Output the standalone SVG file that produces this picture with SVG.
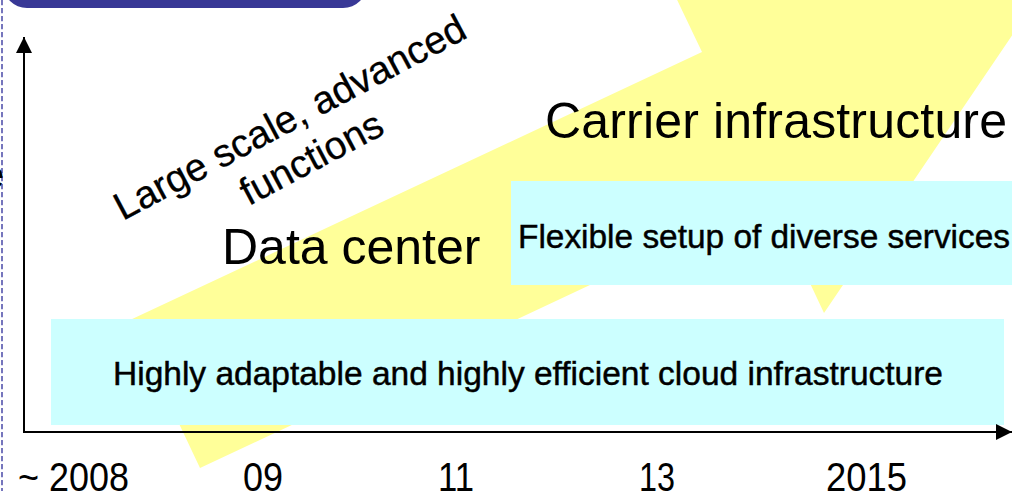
<svg xmlns="http://www.w3.org/2000/svg" width="1012" height="491" viewBox="0 0 1012 491">
<style>
.t{font-family:"Liberation Sans",Arial,sans-serif;fill:#000}
.big{font-size:50px}
.box{fill:#CCFFFF}
.boxt{font-size:33px;stroke:#000;stroke-width:0.45}
.yr{font-size:41px}
.ax{stroke:#000;stroke-width:2;fill:none}
</style>
<defs>
<marker id="ah" viewBox="0 0 16 16" refX="16" refY="8" markerWidth="16" markerHeight="16" markerUnits="userSpaceOnUse" orient="auto">
<path d="M0,0 L16,8 L0,16 Z" fill="#000"/>
</marker>
</defs>
<rect width="1012" height="491" fill="#fff"/>
<g id="frame">
<rect x="3" y="-40" width="364" height="48" rx="24" fill="#383896"/>
<line x1="2" y1="0" x2="2" y2="491" stroke="#4a4aa8" stroke-width="1.5" stroke-dasharray="5.3 2.7"/>
<text class="t" x="-17" y="188" font-size="38">e</text>
</g>
<g id="growth-arrow">
<polygon points="200,468 771,200 824,313 1051,-22 648,-61 702,52 130,320" fill="#FFFF99"/>
</g>
<g id="label-scale">
<g transform="translate(296,129) rotate(-28)">
<text class="t" x="0" y="0" font-size="39" text-anchor="middle" stroke="#000" stroke-width="0.3">Large scale, advanced</text>
<text class="t" x="0" y="46" font-size="39" text-anchor="middle" stroke="#000" stroke-width="0.3">functions</text>
</g>
</g>
<g id="node-carrier">
<text class="t big" x="545" y="138" textLength="462" lengthAdjust="spacing">Carrier infrastructure</text>
</g>
<g id="node-datacenter">
<text class="t big" x="222" y="264">Data center</text>
</g>
<g id="node-flexible">
<rect class="box" x="511" y="181" width="510" height="104"/>
<text class="t boxt" x="518" y="248" textLength="492" lengthAdjust="spacingAndGlyphs">Flexible setup of diverse services</text>
</g>
<g id="node-cloud">
<rect class="box" x="51" y="319" width="953" height="106"/>
<text class="t boxt" x="113" y="385" textLength="830" lengthAdjust="spacingAndGlyphs">Highly adaptable and highly efficient cloud infrastructure</text>
</g>
<g id="connectors">
<line class="ax" x1="24" y1="433" x2="24" y2="37" marker-end="url(#ah)"/>
<line class="ax" x1="23" y1="432" x2="1012" y2="432" marker-end="url(#ah)"/>
</g>
<g id="years">
<text class="t yr" x="18" y="491" textLength="111" lengthAdjust="spacingAndGlyphs">~ 2008</text>
<text class="t yr" x="243" y="491" textLength="40" lengthAdjust="spacingAndGlyphs">09</text>
<text class="t yr" x="438" y="491" textLength="36" lengthAdjust="spacingAndGlyphs">11</text>
<text class="t yr" x="639" y="491" textLength="36" lengthAdjust="spacingAndGlyphs">13</text>
<text class="t yr" x="826" y="491" textLength="81" lengthAdjust="spacingAndGlyphs">2015</text>
</g>
</svg>
